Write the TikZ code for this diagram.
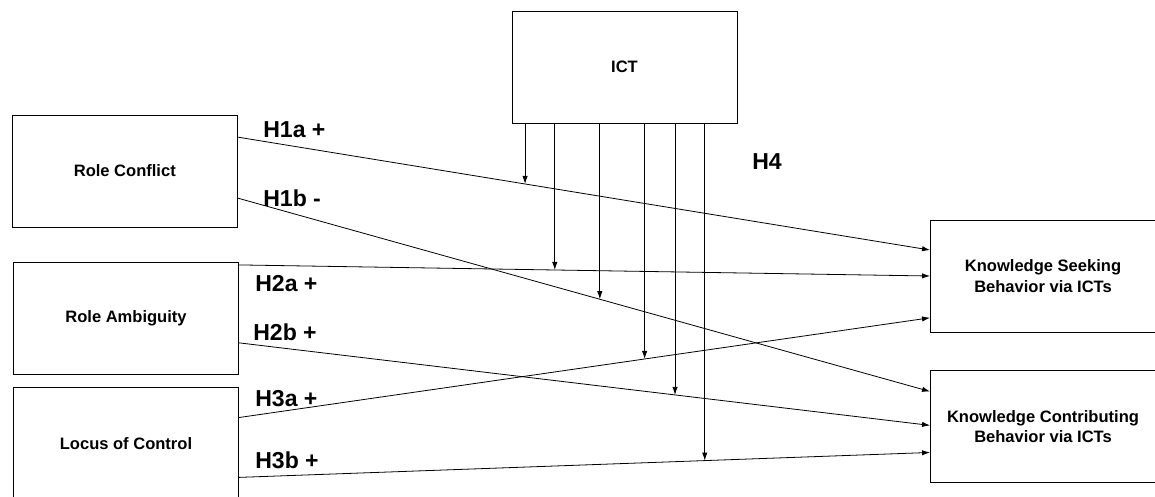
\documentclass[tikz,border=0pt]{standalone}
\usepackage{fontspec}
\setmainfont{Liberation Sans}
\usetikzlibrary{arrows.meta,calc}

\begin{document}
\begin{tikzpicture}[x=0.75pt, y=-0.75pt, >={Latex[length=6pt,width=4pt]},
  box/.style={draw, line width=0.7pt, minimum width=168.75pt, minimum height=84pt, align=center, font=\fontsize{12.4}{15.2}\selectfont\bfseries},
  hyp/.style={anchor=west, inner sep=0pt, font=\fontsize{17.3}{20}\selectfont\bfseries},
  link/.style={->, line width=0.6pt}]
  \useasboundingbox (0,0) rectangle (1155,496);

  \node[box] (ict) at (624.5,67) {ICT};
  \node[box] (rc) at (124.8,171) {Role Conflict};
  \node[box] (ra) at (126,318) {Role Ambiguity};
  \node[box] (loc) at (126,443.5) {Locus of Control};
  \node[box] (ks) at (1043,276) {Knowledge Seeking\\ Behavior via ICTs};
  \node[box] (kc) at (1043,426.5) {Knowledge Contributing\\ Behavior via ICTs};

  % direct effects, with the points where ICT moderates them
  \draw[link] ($(rc.north east)!0.2!(rc.south east)$) -- coordinate[pos=0.415] (m1) ($(ks.north west)!0.27!(ks.south west)$);
  \draw[link] ($(rc.north east)!0.74!(rc.south east)$) -- coordinate[pos=0.523] (m3) ($(kc.north west)!0.19!(kc.south west)$);
  \draw[link] ($(ra.north east)!0.03!(ra.south east)$) -- coordinate[pos=0.457] (m2) ($(ks.north west)!0.5!(ks.south west)$);
  \draw[link] ($(ra.north east)!0.72!(ra.south east)$) -- coordinate[pos=0.631] (m5) ($(kc.north west)!0.49!(kc.south west)$);
  \draw[link] ($(loc.north east)!0.27!(loc.south east)$) -- coordinate[pos=0.587] (m4) ($(ks.north west)!0.87!(ks.south west)$);
  \draw[link] ($(loc.north east)!0.8!(loc.south east)$) -- coordinate[pos=0.674] (m6) ($(kc.north west)!0.73!(kc.south west)$);

  % moderation arrows
  \foreach \m in {m1,m2,m3,m4,m5,m6}
    \draw[link] (\m |- ict.south) -- (\m);

  \node[hyp] (h1a) at (263,130) {H1a +};
  \node[hyp] (h1b) at (263,198) {H1b -};
  \node[hyp] (h2a) at (255,284) {H2a +};
  \node[hyp] (h2b) at (253,332) {H2b +};
  \node[hyp] (h3a) at (255,399) {H3a +};
  \node[hyp] (h3b) at (255,460) {H3b +};
  \node[hyp] (h4) at (752,162) {H4};
\end{tikzpicture}
\end{document}
